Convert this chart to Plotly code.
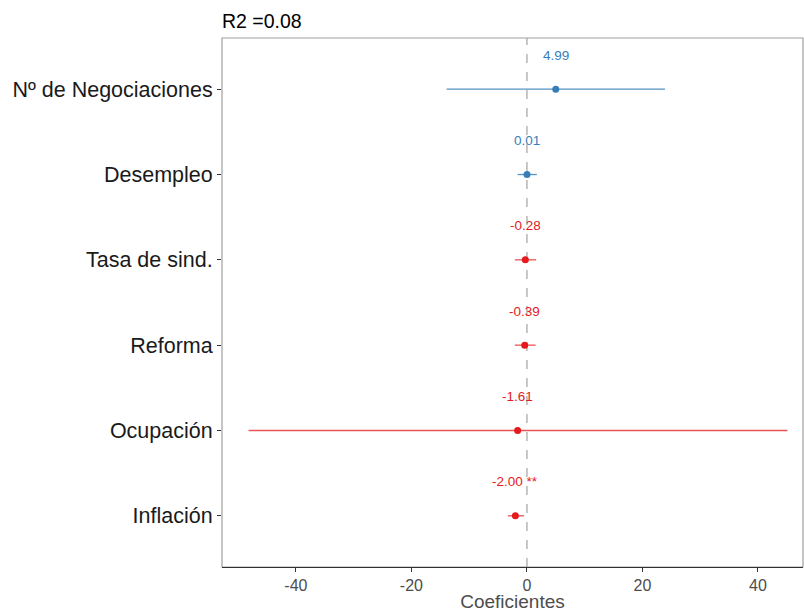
import plotly.graph_objects as go

# Data
variables = ["Inflación", "Ocupación", "Reforma", "Tasa de sind.", "Desempleo", "Nº de Negociaciones"]
estimates = [-2.00, -1.61, -0.39, -0.28, 0.01, 4.99]
ci_low = [-3.3, -48.2, -2.1, -2.1, -1.6, -13.9]
ci_high = [-0.5, 45.1, 1.5, 1.6, 1.7, 23.9]
labels = ["-2.00 **", "-1.61", "-0.39", "-0.28", "0.01", "4.99"]
r2_title = "R2 =0.08"
x_ticks = [-40, -20, 0, 20, 40]

RED = "#E41A1C"
BLUE = "#377EB8"
RED_L = "rgba(228,26,28,0.75)"
BLUE_L = "rgba(55,126,184,0.85)"
colors = [BLUE if e > 0 else RED for e in estimates]
line_colors = [BLUE_L if e > 0 else RED_L for e in estimates]

fig = go.Figure()
for v, e, lo, hi, c, lc in zip(variables, estimates, ci_low, ci_high, colors, line_colors):
    fig.add_trace(go.Scatter(
        x=[e], y=[v], mode="markers",
        marker=dict(color=c, size=7),
        error_x=dict(type="data", symmetric=False, array=[hi - e], arrayminus=[e - lo],
                     color=lc, thickness=1.3, width=0),
        showlegend=False, hoverinfo="skip",
    ))

for v, e, lab, c in zip(variables, estimates, labels, colors):
    fig.add_annotation(x=e, y=v, text=lab, showarrow=False, yshift=34,
                       font=dict(color=c, size=13.5, family="Liberation Sans"))

fig.add_vline(x=0, line=dict(color="#AAAAAA", width=1.3, dash="dash"), layer="below")

fig.update_layout(
    width=804, height=612,
    margin=dict(l=222, r=1, t=38, b=45),
    plot_bgcolor="white", paper_bgcolor="white",
    font=dict(family="Liberation Sans"),
    title=dict(text=r2_title, x=222/804, xanchor="left", xref="container",
               y=1 - 21/612, yanchor="middle", yref="container",
               font=dict(size=19.5, color="black")),
    xaxis=dict(range=[-52.8, 47.8], tickvals=x_ticks, ticktext=[str(t) for t in x_ticks],
               showgrid=False, zeroline=False,
               showline=True, linecolor="#333333", linewidth=1.3, mirror=False,
               ticks="outside", ticklen=4, tickcolor="#333333",
               tickfont=dict(size=16, color="#4D4D4D"),
               title=dict(text="Coeficientes", font=dict(size=19, color="#4D4D4D"), standoff=0)),
    yaxis=dict(type="category", categoryorder="array", categoryarray=variables,
               range=[-0.6, 5.6], showgrid=False, zeroline=False,
               showline=False,
               ticks="outside", ticklen=4, tickcolor="#333333",
               tickfont=dict(size=21.5, color="#1A1A1A")),
)

# panel border (gray)
fig.add_shape(type="rect", xref="paper", yref="paper", x0=0, x1=1, y0=0, y1=1,
              line=dict(color="#A0A0A0", width=1.2), layer="below")

fig.write_html("out.html", config={"displayModeBar": False},
               post_script="document.body.style.margin='0';")
